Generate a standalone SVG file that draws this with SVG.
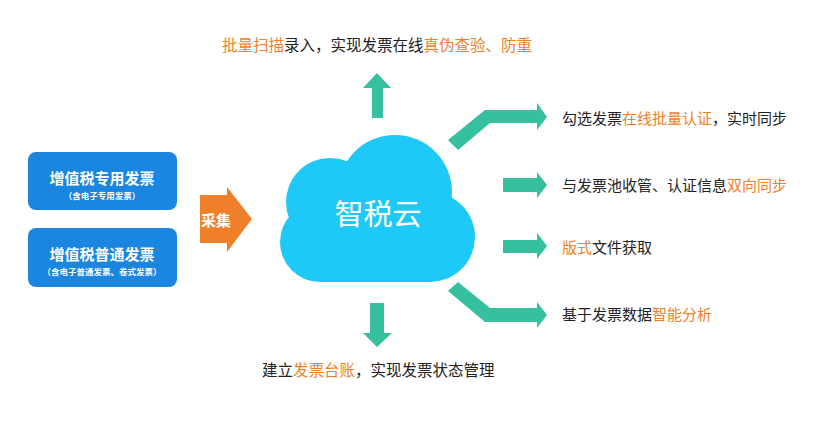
<svg xmlns="http://www.w3.org/2000/svg" width="828" height="430" viewBox="0 0 828 430">
<style>
text{font-family:"Noto Sans CJK SC","Noto Sans",sans-serif}
.t{font-size:15px;fill:#222}
.o{fill:#f07f2a}
.g{fill:#36c0a0}
.box{fill:#1a86e0}
.bt{fill:#fff;font-weight:bold;text-anchor:middle}
</style>
<rect width="828" height="430" fill="#fff"/>
<g id="box1"><rect class="box" x="28" y="152" width="149" height="58" rx="8"/>
<text class="bt" x="102" y="184" font-size="15">增值税专用发票</text>
<text class="bt" x="102" y="199" font-size="8.5">（含电子专用发票）</text></g>
<g id="box2"><rect class="box" x="28" y="228" width="149" height="59" rx="8"/>
<text class="bt" x="102" y="260" font-size="15">增值税普通发票</text>
<text class="bt" x="102" y="275" font-size="8.5">（含电子普通发票、卷式发票）</text></g>
<g id="cloud" fill="#1ec8f7">
<circle cx="395" cy="192" r="57"/><circle cx="330" cy="202" r="44"/><circle cx="430" cy="237" r="45"/><circle cx="320" cy="242" r="40"/>
<rect x="320" y="200" width="112" height="82"/>
<text x="378" y="225" font-size="29" fill="#fff" text-anchor="middle">智税云</text></g>
<g id="connectors">
<path fill="#f07f2a" d="M200,195H227V187L252,219L227,252V243H200Z"/>
<text x="216" y="226" font-size="15" fill="#fff" text-anchor="middle" font-weight="bold">采集</text>
<path class="g" d="M372,118V88H363L377,73L391,88H383V118Z"/>
<path class="g" d="M370,303H384V333H392L377,347L363,333H370Z"/>
<path class="g" d="M448,140L485,110H537V103L547,117L537,130V123H490L458,150Z"/>
<path class="g" d="M503,178H537V172L547,185L537,198V192H503Z"/>
<path class="g" d="M503,240H537V233L547,246L537,259V253H503Z"/>
<path class="g" d="M458,282L490,308H537V302L547,315L537,328V322H485L448,291Z"/>
</g>
<g id="labels" class="t">
<text x="222" y="51" font-size="15.5"><tspan class="o">批量扫描</tspan>录入，实现发票在线<tspan class="o">真伪查验、防重</tspan></text>
<text x="562" y="124"><tspan>勾选发票</tspan><tspan class="o">在线批量认证</tspan>，实时同步</text>
<text x="562" y="191">与发票池收管、认证信息<tspan class="o">双向同步</tspan></text>
<text x="562" y="253"><tspan class="o">版式</tspan>文件获取</text>
<text x="562" y="320">基于发票数据<tspan class="o">智能分析</tspan></text>
<text x="262" y="376" font-size="15.5">建立<tspan class="o">发票台账</tspan>，实现发票状态管理</text>
</g>
</svg>
